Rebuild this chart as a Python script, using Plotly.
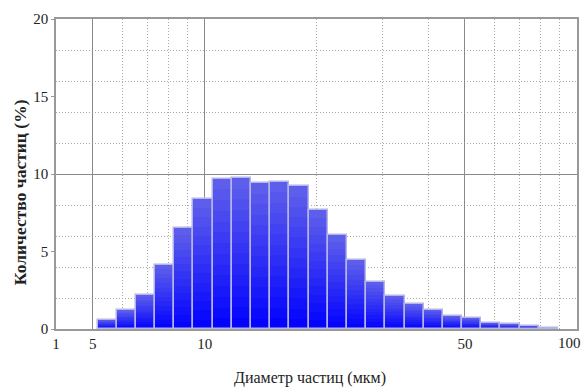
import numpy as np
import plotly.graph_objects as go

# ---- data ----
bin_edges = [5.17, 5.79, 6.52, 7.34, 8.27, 9.30, 10.49, 11.80, 13.30, 14.95, 16.85,
             19.04, 21.45, 24.08, 27.14, 30.57, 34.45, 38.80, 43.69, 49.17, 55.30,
             62.09, 70.14, 78.89, 88.9]
counts = [0.6, 1.2, 2.2, 4.15, 6.5, 8.4, 9.7, 9.75, 9.4, 9.5, 9.2, 7.7, 6.05,
          4.45, 3.05, 2.15, 1.6, 1.25, 0.85, 0.7, 0.4, 0.3, 0.2, 0.06]
x_tick_vals = [10 ** 0.6, 5, 10, 50]
x_tick_text = ["1", "5", "10", "50"]
x_last_label = "100"           # sits at the right end of the axis
x_minor_vals = [6, 7, 8, 9, 20, 30, 40, 60, 70, 80, 90]
y_tick_vals = [0, 5, 10, 15, 20]
y_minor_vals = [2, 4, 6, 8, 12, 14, 16, 18]
y_major_grid = [10]

x_title = "Диаметр частиц (мкм)"
y_title = "Количество частиц (%)"

# ---- derived positions on a log10 scale ----
edges_log = np.log10(bin_edges)
centers = (edges_log[:-1] + edges_log[1:]) / 2
widths = edges_log[1:] - edges_log[:-1]
vals = np.array(counts)

fig = go.Figure()

# vertical gradient inside each bar (top lighter, bottom pure blue)
N = 14
top_rgb = np.array([98, 98, 236])
bot_rgb = np.array([0, 0, 255])
for k in range(N, 0, -1):
    t = (k - 0.5) / N
    c = bot_rgb + (top_rgb - bot_rgb) * t
    fig.add_trace(go.Bar(
        x=centers, y=vals * k / N, width=widths,
        marker=dict(color="rgb(%d,%d,%d)" % tuple(c.astype(int)), line=dict(width=0)),
        showlegend=False, hoverinfo="skip"))

# outline of each bar
fig.add_trace(go.Bar(
    x=centers, y=vals, width=widths,
    marker=dict(color="rgba(0,0,0,0)", line=dict(color="#b4b4e8", width=1.5)),
    showlegend=False))

# invisible trace for the overlay axis carrying the solid 10% gridline
fig.add_trace(go.Scatter(x=[centers[0]], y=[0], yaxis="y2", mode="markers",
                         marker=dict(opacity=0), showlegend=False, hoverinfo="skip"))

font_family = "Liberation Serif, Times New Roman, serif"
dot = "1px,2px"

fig.update_layout(
    width=585, height=388, autosize=False,
    margin=dict(l=56, r=8, t=19, b=59, autoexpand=False),
    paper_bgcolor="white", plot_bgcolor="white",
    barmode="overlay", bargap=0,
    font=dict(family=font_family, size=15, color="#222222"),
    xaxis=dict(
        range=[0.6, 2.0], automargin=False,
        tickvals=list(np.log10(x_tick_vals)), ticktext=x_tick_text,
        showgrid=True, gridcolor="#8a8a8a", gridwidth=1.2,
        showline=True, linecolor="#999999", linewidth=1.5, mirror=True,
        ticks="", zeroline=False, ticklabeloverflow="allow",
        tickfont=dict(family=font_family, size=15, color="#222222"),
        minor=dict(tickvals=list(np.log10(x_minor_vals)), showgrid=True,
                   gridcolor="#a8a8a8", gridwidth=1, griddash=dot, ticks=""),
    ),
    yaxis=dict(
        range=[0, 20], tickvals=y_tick_vals, automargin=False,
        showgrid=False, zeroline=False,
        showline=True, linecolor="#999999", linewidth=1.5, mirror=True,
        ticks="outside", ticklen=3, tickcolor="#999999",
        tickfont=dict(family=font_family, size=15, color="#222222"),
        minor=dict(tickvals=y_minor_vals, showgrid=True,
                   gridcolor="#a8a8a8", gridwidth=1, griddash=dot, ticks=""),
    ),
    yaxis2=dict(
        range=[0, 20], overlaying="y", tickvals=y_major_grid, automargin=False,
        showgrid=True, gridcolor="#8a8a8a", gridwidth=1.2,
        showticklabels=False, ticks="", zeroline=False, showline=False,
    ),
    annotations=[
        dict(text=x_last_label, xref="paper", yref="paper", x=1.0, y=0,
             xanchor="right", yanchor="middle", xshift=6, yshift=-14,
             showarrow=False,
             font=dict(family=font_family, size=15, color="#222222")),
        dict(text=x_title, xref="paper", yref="paper", x=0.4875, y=-0.158,
             showarrow=False, xanchor="center", yanchor="middle",
             font=dict(family=font_family, size=16, color="#222222")),
        dict(text="<b>" + y_title + "</b>", xref="paper", yref="paper", x=-0.07, y=0.44,
             showarrow=False, textangle=-90, xanchor="center", yanchor="middle",
             font=dict(family=font_family, size=17.5, color="#222222")),
    ],
)

fig.write_html("out.html", config={"displayModeBar": False},
               post_script="document.body.style.margin='0';document.body.style.overflow='hidden';")
